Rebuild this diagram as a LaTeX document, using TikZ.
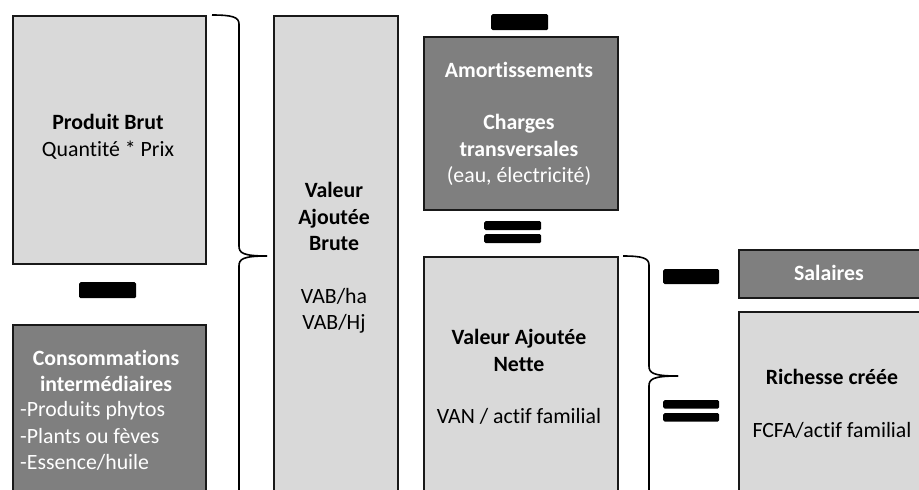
\documentclass[tikz,border=0pt]{standalone}
\usepackage{fontspec}
\setmainfont{Carlito}[Ligatures={NoCommon}]
\definecolor{lightg}{HTML}{D9D9D9}
\definecolor{darkg}{HTML}{7F7F7F}
\begin{document}
\begin{tikzpicture}[x=1pt,y=-1pt,
  boxbase/.style={draw=black!90, line width=1.6pt, anchor=north west, inner sep=0pt},
  light/.style={boxbase, fill=lightg},
  dark/.style={boxbase, fill=darkg},
  bar/.style={fill=black, rounded corners=1.5pt, anchor=north west, inner sep=0pt, minimum width=57pt},
  txt/.style={font=\fontsize{21.8}{26.5}\selectfont, align=center, inner sep=0pt},
  wtxt/.style={txt, text=white},
  brace/.style={draw=black, line width=1.6pt}
]
\useasboundingbox (0,0) rectangle (919,490);
\clip (0,0) rectangle (919,490);

% boxes
\node[light, minimum width=193pt, minimum height=248pt] (pb) at (12,15) {};
\node[dark,  minimum width=193pt, minimum height=200pt] (ci) at (12,324) {};
\node[light, minimum width=124pt, minimum height=500pt] (vab) at (273,15) {};
\node[dark,  minimum width=194pt, minimum height=173pt] (am) at (423,36) {};
\node[light, minimum width=194pt, minimum height=260pt] (van) at (423,256) {};
\node[dark,  minimum width=230pt, minimum height=48pt] (sal) at (738,249) {};
\node[light, minimum width=230pt, minimum height=200pt] (ric) at (738,311) {};

% operator bars
\node[bar, minimum height=16pt] (m1) at (79,282) {};
\node[bar, minimum height=16pt] (m2) at (491,14) {};
\node[bar, minimum height=9pt] (e1a) at (484,221) {};
\node[bar, minimum height=9pt] (e1b) at (484,234) {};
\node[bar, minimum width=56pt, minimum height=15pt] (m3) at (663,269) {};
\node[bar, minimum width=56pt, minimum height=8.5pt] (e2a) at (663,400) {};
\node[bar, minimum width=56pt, minimum height=8.5pt] (e2b) at (663,413) {};

% braces
\coordinate (b1top) at (212,15);
\coordinate (b1tip) at (267,256);
\coordinate (b1bot) at (239,520);
\draw[brace] (b1top) .. controls (232,15) and (239,17) .. (239,24) -- (239,246)
  .. controls (239,253) and (243,256) .. (b1tip);
\draw[brace] (b1tip) .. controls (243,256) and (239,259) .. (239,266) -- (b1bot);

\coordinate (b2top) at (623,256);
\coordinate (b2tip) at (678,376);
\coordinate (b2bot) at (649,520);
\draw[brace] (b2top) .. controls (642,256) and (649,258) .. (649,265) -- (649,366)
  .. controls (649,373) and (653,376) .. (b2tip);
\draw[brace] (b2tip) .. controls (653,376) and (649,379) .. (649,386) -- (b2bot);

% texts
\node[txt] (pbt) at (108,137) {\textbf{Produit Brut}\\Quantité * Prix};
\node[wtxt] (cit) at (106,371) {\textbf{Consommations}\\\textbf{intermédiaires}};
\node[wtxt, align=left, anchor=west] (cil) at (20,436) {-Produits phytos\\-Plants ou fèves\\-Essence/huile};
\node[txt] (vabt) at (334,258) {\textbf{Valeur}\\\textbf{Ajoutée}\\\textbf{Brute}\\[26pt]VAB/ha\\VAB/Hj};
\node[wtxt] (amt) at (519,124) {\textbf{Amortissements}\\[26pt]\textbf{Charges}\\\textbf{transversales}\\(eau, électricité)};
\node[txt] (vant) at (519,377) {\textbf{Valeur Ajoutée}\\\textbf{Nette}\\[26pt]VAN / actif familial};
\node[wtxt] (salt) at (829,273) {\textbf{Salaires}};
\node[txt] (rict) at (832,404) {\textbf{Richesse créée}\\[26pt]FCFA/actif familial};
\end{tikzpicture}
\end{document}
